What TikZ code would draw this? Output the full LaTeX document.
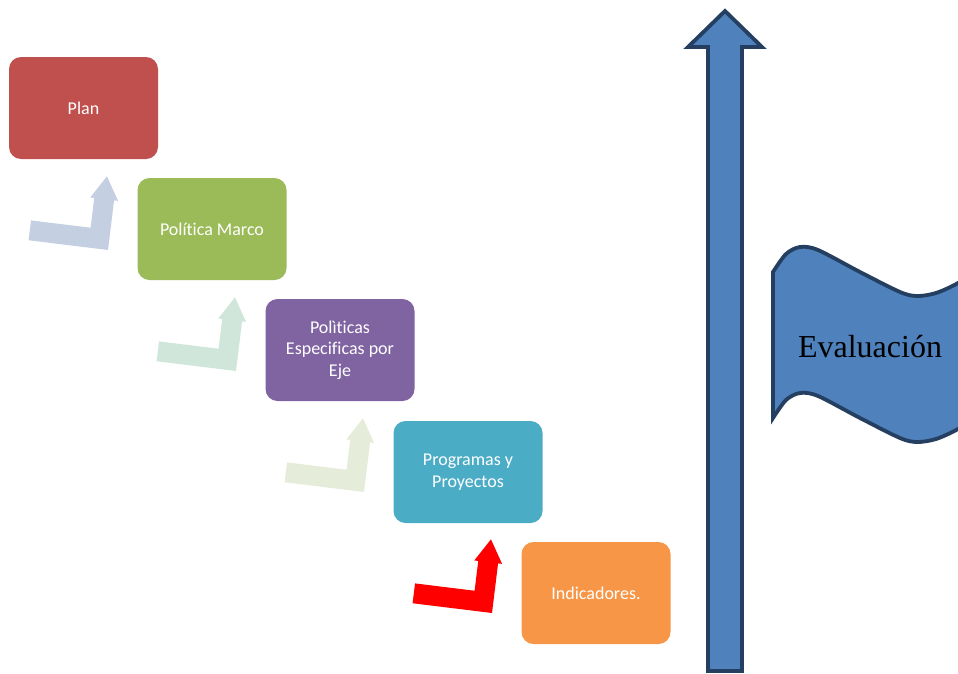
\documentclass[tikz,border=0pt]{standalone}
\usepackage{fontspec}
\setmainfont[Ligatures=NoCommon]{Carlito}
\newfontfamily\romanfont{Liberation Serif}
\definecolor{planrojo}{HTML}{C0504D}
\definecolor{marcoverde}{HTML}{9BBB59}
\definecolor{ejemorado}{HTML}{8064A2}
\definecolor{progcian}{HTML}{4BACC6}
\definecolor{indnaranja}{HTML}{F79646}
\definecolor{flechaA}{HTML}{C4CFE2}
\definecolor{flechaB}{HTML}{D0E6DB}
\definecolor{flechaC}{HTML}{E6ECDA}
\definecolor{flechaD}{HTML}{FF0000}
\definecolor{azul}{HTML}{4F81BD}
\definecolor{azulosc}{HTML}{243F60}
\begin{document}
\begin{tikzpicture}[x=1pt,y=-1pt,
	paso/.style={rounded corners=12pt, minimum width=149pt, minimum height=102pt,
		inner sep=0pt, align=center, text=white, font=\fontsize{18}{21.5}\selectfont},
	borde/.style={fill=azul, draw=azulosc, line width=3.8pt}]
	\useasboundingbox (0,0) rectangle (958,673);
	\clip (0,0) rectangle (958,673);
	% escalones
	\node[paso, fill=planrojo] (plan) at (83.5,108) {Plan};
	\node[paso, fill=marcoverde] (marco) at (212,229) {Política Marco};
	\node[paso, fill=ejemorado] (ejes) at (340,350) {Polìticas\\Especificas por\\Eje};
	\node[paso, fill=progcian] (programas) at (468,472) {Programas y\\Proyectos};
	\node[paso, fill=indnaranja] (indicadores) at (596,593) {Indicadores.};
	% flechas dobladas
	\foreach \x/\y/\c in {108/250/flechaA, 236/371/flechaB, 364/492/flechaC, 492/613/flechaD}
	\fill[\c, shift={(\x,\y)}, rotate=-7] (0,0) -- (-80,0) -- (-80,-20) -- (-20,-20) -- (-20,-50)
		-- (-24,-50) -- (-10,-73) -- (4,-50) -- (0,-50) -- cycle;
	% flecha grande
	\draw[borde] (725,11) -- (762,47) -- (742,47) -- (742,671) -- (708,671) -- (708,47) -- (688,47) -- cycle;
	% bandera
	\draw[borde] plot[smooth] coordinates {(773,272) (786,254) (800,247) (818,250) (860,272) (900,292) (917,296) (936,293) (958,283) (985,265)}
		-- plot[smooth] coordinates {(985,411) (958,429) (936,439) (917,442) (900,438) (860,418) (818,396) (800,393) (786,400) (773,418)} -- cycle;
	\node[font=\romanfont\fontsize{32}{38}\selectfont] (evaluacion) at (870,347) {Evaluación};
\end{tikzpicture}
\end{document}
